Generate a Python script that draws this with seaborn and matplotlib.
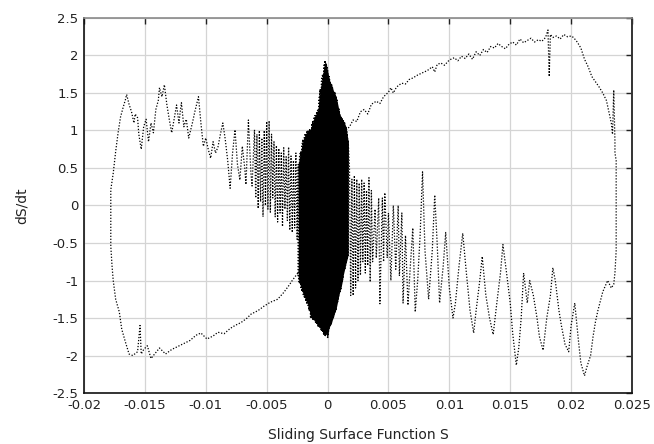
import numpy as np
import pandas as pd
import matplotlib
matplotlib.use("Agg")
import matplotlib.pyplot as plt
import seaborn as sns

# ---- data (S, dS/dt) ----
# lower-left arc: from the central cluster out to the left
ll_x = [-0.0023, -0.0029, -0.0031, -0.0036, -0.0041, -0.0047, -0.0052, -0.0057, -0.0063, -0.0066,
        -0.0071, -0.0076, -0.0080, -0.0085, -0.0090, -0.0094, -0.0099, -0.0104, -0.0108, -0.0113,
        -0.0118, -0.0123, -0.0128, -0.0133, -0.0138, -0.0142, -0.0145, -0.0148, -0.0151, -0.0153,
        -0.0154, -0.0156, -0.0160, -0.0163, -0.0166, -0.0169, -0.0171, -0.0174, -0.0176, -0.0177, -0.0178]
ll_y = [-0.87, -1.00, -1.05, -1.16, -1.25, -1.29, -1.34, -1.40, -1.45, -1.50,
        -1.56, -1.60, -1.64, -1.71, -1.69, -1.74, -1.78, -1.70, -1.73, -1.80,
        -1.84, -1.88, -1.92, -1.98, -1.90, -1.98, -2.04, -1.87, -1.92, -1.98,
        -1.60, -1.95, -2.00, -1.98, -1.82, -1.65, -1.42, -1.25, -1.00, -0.80, -0.54]

# left edge rising, then the noisy upper-left branch back to the cluster
ul_x = [-0.0178, -0.0178, -0.0176, -0.0174, -0.0172, -0.0170, -0.0168, -0.0166, -0.0165, -0.0163,
        -0.0161, -0.0159, -0.0158, -0.0156, -0.0155, -0.0153, -0.0151, -0.0149, -0.0147, -0.0145,
        -0.0143, -0.0141, -0.0139, -0.0138, -0.0136, -0.0134, -0.0132, -0.0130, -0.0128, -0.0126,
        -0.0124, -0.0122, -0.0121, -0.0120, -0.0118, -0.0116, -0.0114, -0.0111, -0.0109, -0.0106,
        -0.0104, -0.0102, -0.0100, -0.0098, -0.0096, -0.0094, -0.0092, -0.0090, -0.0088, -0.0086,
        -0.0084, -0.0082, -0.0080, -0.0078, -0.0076, -0.0074, -0.0072, -0.0070, -0.0068, -0.0067,
        -0.0065, -0.0063, -0.0062,
        -0.0060, -0.0059, -0.0058, -0.0057, -0.0056, -0.0055, -0.0054, -0.0053, -0.0052, -0.0051,
        -0.0050, -0.0049, -0.0048, -0.0047, -0.0046, -0.0045, -0.0044, -0.0043, -0.0042, -0.0041,
        -0.0040, -0.0039, -0.0038, -0.0037, -0.0036, -0.0035, -0.0034, -0.0033, -0.0032, -0.0031,
        -0.0030, -0.0029, -0.0028, -0.0027, -0.0026, -0.0025, -0.0024]
ul_y = [-0.20, 0.21, 0.43, 0.72, 0.97, 1.18, 1.30, 1.41, 1.48, 1.35,
        1.25, 1.10, 1.22, 1.17, 0.95, 0.75, 1.05, 1.15, 0.85, 1.10,
        0.97, 1.28, 1.40, 1.57, 1.45, 1.61, 1.35, 1.15, 0.97, 1.15,
        1.34, 1.10, 1.25, 1.37, 1.05, 1.15, 0.90, 1.10, 1.25, 1.45,
        1.10, 0.79, 0.90, 0.75, 0.63, 0.85, 0.70, 0.78, 0.95, 1.10,
        0.88, 0.60, 0.23, 0.70, 1.01, 0.55, 0.34, 0.79, 0.50, 0.28,
        1.14, 0.45, 0.26,
        1.01, 0.10, 0.95, -0.04, 1.00, 0.05, 0.90, -0.15, 1.00, 0.00,
        1.12, -0.05, 1.13, -0.09, 0.95, 0.10, 0.85, -0.15, 0.80, -0.22,
        0.76, -0.10, 0.70, -0.28, 0.77, -0.05, 0.65, -0.20, 0.78, -0.33,
        0.66, -0.36, 0.60, -0.30, 0.70, -0.45, 0.55]

# dense chattering cluster around S = 0 (envelope)
cl_x = [-0.0024, -0.0023, -0.0022, -0.0021, -0.0020, -0.0019, -0.0018, -0.0017, -0.0016, -0.0015,
        -0.0014, -0.0013, -0.0012, -0.0011, -0.0010, -0.0009, -0.0008, -0.0007, -0.0006, -0.0005,
        -0.0004, -0.0003, -0.0002, -0.0001, 0.0000, 0.0001, 0.0002, 0.0003, 0.0004, 0.0005,
        0.0006, 0.0007, 0.0008, 0.0009, 0.0010, 0.0011, 0.0012, 0.0013, 0.0014, 0.0015,
        0.0016, 0.0017]
cl_top = [0.55, 0.65, 0.72, 0.80, 0.88, 0.92, 0.96, 0.98, 1.00, 1.00,
          1.02, 1.08, 1.12, 1.18, 1.20, 1.25, 1.27, 1.40, 1.55, 1.65,
          1.75, 1.85, 1.93, 1.88, 1.80, 1.72, 1.65, 1.62, 1.58, 1.52,
          1.50, 1.45, 1.38, 1.30, 1.22, 1.18, 1.15, 1.13, 1.10, 1.05,
          0.96, 0.85]
cl_bot = [-0.95, -1.04, -1.08, -1.13, -1.18, -1.22, -1.26, -1.30, -1.32, -1.40,
          -1.49, -1.50, -1.52, -1.53, -1.55, -1.58, -1.60, -1.62, -1.64, -1.66,
          -1.68, -1.72, -1.74, -1.70, -1.76, -1.65, -1.60, -1.58, -1.52, -1.48,
          -1.42, -1.38, -1.30, -1.22, -1.15, -1.10, -1.02, -0.92, -0.85, -0.78,
          -0.72, -0.65]

# upper arc from the cluster to the top right
ua_x = [0.0015, 0.0018, 0.0021, 0.0024, 0.0027, 0.0030, 0.0033, 0.0036, 0.0040, 0.0043,
        0.0046, 0.0050, 0.0052, 0.0054, 0.0056, 0.0058, 0.0061, 0.0064, 0.0067, 0.0070,
        0.0074, 0.0078, 0.0082, 0.0086, 0.0088, 0.0090, 0.0093, 0.0096, 0.0100, 0.0104,
        0.0107, 0.0110, 0.0113, 0.0116, 0.0119, 0.0122, 0.0125, 0.0128, 0.0131, 0.0134,
        0.0137, 0.0140, 0.0143, 0.0146, 0.0149, 0.0152, 0.0155, 0.0158, 0.0161, 0.0164,
        0.0167, 0.0170, 0.0173, 0.0176, 0.0179, 0.0181, 0.0182, 0.0183, 0.0185, 0.0188,
        0.0191, 0.0194, 0.0197, 0.0200, 0.0202]
ua_y = [1.00, 1.05, 1.14, 1.12, 1.25, 1.28, 1.22, 1.35, 1.39, 1.36,
        1.45, 1.51, 1.57, 1.50, 1.56, 1.60, 1.63, 1.62, 1.68, 1.70,
        1.74, 1.77, 1.80, 1.85, 1.78, 1.88, 1.90, 1.87, 1.94, 1.97,
        1.93, 1.99, 1.96, 2.02, 1.95, 2.05, 2.00, 2.08, 2.04, 2.12,
        2.10, 2.16, 2.12, 2.09, 2.15, 2.18, 2.14, 2.22, 2.17, 2.20,
        2.23, 2.18, 2.21, 2.19, 2.24, 2.34, 1.72, 2.28, 2.24, 2.26,
        2.22, 2.28, 2.25, 2.26, 2.24]

# right edge falling
re_x = [0.0205, 0.0208, 0.0211, 0.0214, 0.0217, 0.0220, 0.0223, 0.0226, 0.0229, 0.0231,
        0.0233, 0.0234, 0.0235, 0.0236, 0.0236, 0.0237, 0.0237, 0.0237, 0.0237, 0.0237,
        0.0236, 0.0235, 0.0233]
re_y = [2.18, 2.10, 1.95, 1.85, 1.72, 1.65, 1.58, 1.50, 1.40, 1.25,
        1.10, 0.95, 1.54, 0.85, 0.70, 0.60, 0.30, 0.00, -0.30, -0.60,
        -0.90, -1.05, -1.10]

# noisy lower-right branch back to the cluster
lr_x = [0.0230, 0.0226, 0.0222, 0.0220, 0.0218, 0.0216, 0.0213, 0.0211, 0.0208, 0.0206,
        0.0203, 0.0200, 0.0198, 0.0195, 0.0192, 0.0190, 0.0187, 0.0185, 0.0183, 0.0180,
        0.0177, 0.0174, 0.0172, 0.0169, 0.0166, 0.0164, 0.0161, 0.0159, 0.0157, 0.0155,
        0.0152, 0.0150, 0.0147, 0.0144, 0.0142, 0.0139, 0.0136, 0.0133, 0.0130, 0.0127,
        0.0125, 0.0122, 0.0120, 0.0117, 0.0114, 0.0111, 0.0108, 0.0105, 0.0103, 0.0100,
        0.0097, 0.0095, 0.0092, 0.0090, 0.0088, 0.0086, 0.0083, 0.0080, 0.0078, 0.0076,
        0.0074, 0.0072, 0.0070,
        0.0068, 0.0066, 0.0064, 0.0062, 0.0061, 0.0059, 0.0058, 0.0056, 0.0054, 0.0052,
        0.0050, 0.0049, 0.0047, 0.0046, 0.0045, 0.0043, 0.0042, 0.0040, 0.0039, 0.0037,
        0.0036, 0.0035, 0.0034, 0.0033, 0.0032, 0.0031, 0.0030, 0.0029, 0.0028, 0.0027,
        0.0026, 0.0025, 0.0024, 0.0023, 0.0022, 0.0021, 0.0020, 0.0019, 0.0018]
lr_y = [-1.00, -1.15, -1.40, -1.55, -1.75, -2.00, -2.15, -2.27, -2.10, -1.80,
        -1.30, -1.60, -1.95, -1.85, -1.60, -1.40, -1.00, -0.83, -1.20, -1.50,
        -1.93, -1.75, -1.50, -1.20, -1.00, -1.30, -0.90, -1.50, -1.90, -2.13,
        -1.70, -1.30, -0.90, -0.52, -0.90, -1.30, -1.72, -1.50, -1.20, -0.68,
        -1.00, -1.40, -1.70, -1.40, -0.90, -0.37, -0.80, -1.30, -1.50, -1.10,
        -0.36, -0.80, -1.30, -0.50, 0.14, -0.60, -1.25, -0.60, 0.45, -0.40,
        -1.00, -1.42, -0.30,
        -0.80, -1.33, -0.40, -1.30, -0.10, -0.94, 0.00, -0.85, 0.00, -1.00,
        -0.10, -0.70, 0.17, -0.75, 0.10, -1.31, 0.10, -0.70, -0.05, -0.75,
        0.20, -1.02, 0.37, -0.80, 0.20, -0.90, 0.30, -0.75, 0.35, -0.93,
        0.30, -1.00, 0.35, -1.10, 0.40, -1.20, 0.35, -1.20, 0.50]

xticks = [-0.02, -0.015, -0.01, -0.005, 0.0, 0.005, 0.01, 0.015, 0.02, 0.025]
xtick_labels = ["-0.02", "-0.015", "-0.01", "-0.005", "0", "0.005", "0.01", "0.015", "0.02", "0.025"]
yticks = [-2.5, -2.0, -1.5, -1.0, -0.5, 0.0, 0.5, 1.0, 1.5, 2.0, 2.5]
ytick_labels = ["-2.5", "-2", "-1.5", "-1", "-0.5", "0", "0.5", "1", "1.5", "2", "2.5"]

# ---- build path ----
zz_x, zz_y = [], []
for i, (cx, ct, cb) in enumerate(zip(cl_x, cl_top, cl_bot)):
    if i % 2 == 0:
        zz_x += [cx, cx]; zz_y += [ct, cb]
    else:
        zz_x += [cx, cx]; zz_y += [cb, ct]

path_x = ll_x + ul_x + zz_x + ua_x + re_x + lr_x + zz_x[::-1]
path_y = ll_y + ul_y + zz_y + ua_y + re_y + lr_y + zz_y[::-1]
df = pd.DataFrame({"S": path_x, "dS": path_y})

sns.set_style("white")
plt.rcParams["font.family"] = ["DejaVu Sans"]

fig = plt.figure(figsize=(6.54, 4.44), dpi=100)
ax = fig.add_axes([84 / 654, 51 / 444, 548 / 654, 375 / 444])

ax.fill_between(cl_x, cl_bot, cl_top, color="black", linewidth=0, zorder=2)
sns.lineplot(data=df, x="S", y="dS", sort=False, estimator=None, ax=ax,
             color="black", linewidth=0.9, linestyle=(0, (1, 1.4)), zorder=3)

ax.set_xlim(-0.02, 0.025)
ax.set_ylim(-2.5, 2.5)
ax.set_xticks(xticks)
ax.set_xticklabels(xtick_labels)
ax.set_yticks(yticks)
ax.set_yticklabels(ytick_labels)
ax.grid(True, color="#d4d4d4", linewidth=0.9, zorder=0)
ax.set_axisbelow(True)
ax.tick_params(direction="in", top=True, right=True, length=4, width=1,
               labelsize=9.5, colors="#222222", pad=4)

for side in ["left", "bottom"]:
    ax.spines[side].set_color("#111111")
    ax.spines[side].set_linewidth(1.2)
ax.spines["top"].set_color("#8a8a8a")
ax.spines["top"].set_linewidth(1.2)
ax.spines["right"].set_color("#333333")
ax.spines["right"].set_linewidth(1.4)

ax.set_xlabel("Sliding Surface Function S", fontsize=10, color="#222222", labelpad=12)
ax.set_ylabel("dS/dt", fontsize=10, color="#222222", labelpad=17)

fig.savefig("out.png", dpi=100)
